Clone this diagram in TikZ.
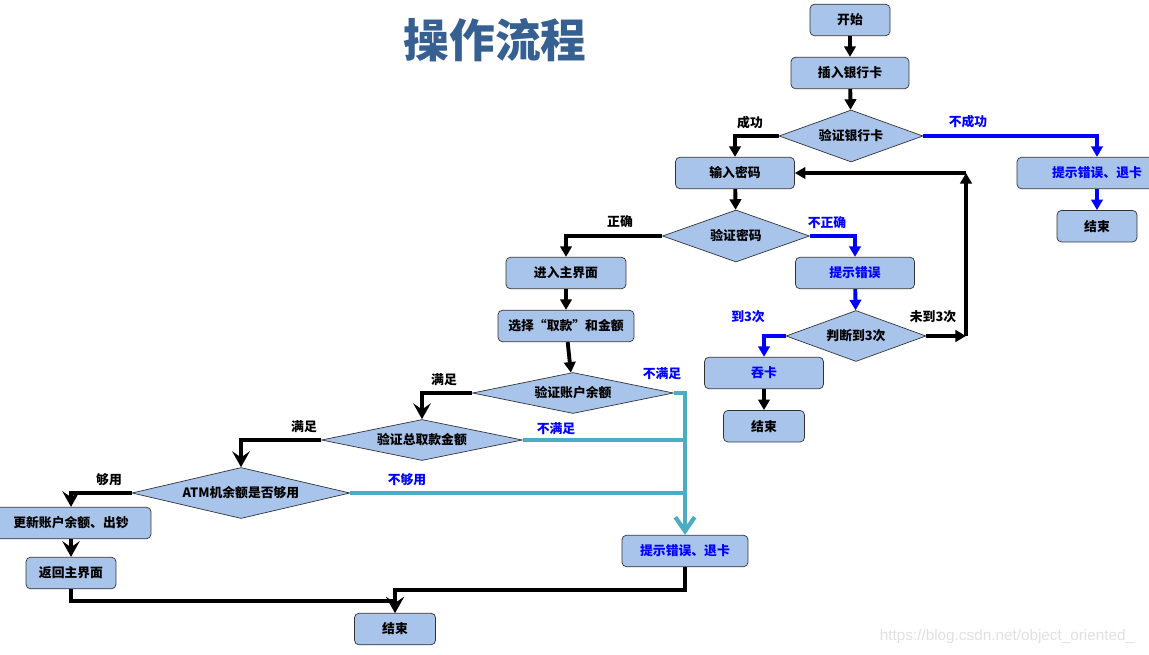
\documentclass[tikz,border=0pt]{standalone}
\usepackage{fontspec}
\setmainfont{Noto Sans CJK SC}
\newfontfamily\markfont{Liberation Sans}
\usetikzlibrary{positioning, shapes.geometric, arrows.meta}
\definecolor{boxblue}{RGB}{169,196,235}
\definecolor{titleblue}{RGB}{54,96,146}
\definecolor{noblue}{RGB}{0,0,255}
\definecolor{failteal}{RGB}{75,172,198}

\begin{document}
\begin{tikzpicture}[x=0.02cm, y=-0.02cm, node distance=0.42cm,
	every node/.style={font=\fontsize{7.3}{9}\selectfont\bfseries},
	stepbox/.style={rectangle, draw=black!80, fill=boxblue, rounded corners=2.5pt, minimum height=0.63cm, inner sep=1pt},
	decide/.style={diamond, draw=black!80, fill=boxblue, shape aspect=5, inner sep=0pt},
	lbl/.style={inner sep=0pt},
	go/.style={line width=2.2pt, -{Triangle[width=6.5pt,length=6pt]}},
	nogo/.style={go, noblue},
	yes/.style={line width=2.4pt, -{Stealth[width=10pt,length=9pt,inset=3.5pt]}},
	tealline/.style={line width=2.4pt, failteal},
	short/.style={tealline, -{Straight Barb[width=11pt,length=8pt]}}]
	\useasboundingbox (0,0) rectangle (1149,655);
	\node (title) at (495,40) [font=\fontsize{26}{30}\selectfont\bfseries, text=titleblue] {操作流程};
	\node (start) at (850,20) [stepbox, minimum width=1.6cm] {开始};
	\node (insert) at (850,73) [stepbox, minimum width=2.36cm] {插入银行卡};
	\node (chkcard) at (851,136) [decide, minimum width=2.88cm, minimum height=1.04cm] {验证银行卡};
	\node (cardfail) at (1097,173) [stepbox, minimum width=3.2cm, text=noblue] {提示错误、退卡};
	\node (end1) [stepbox, minimum width=1.6cm, below=of cardfail] {结束};
	\node (pwd) at (735,173) [stepbox, minimum width=2.38cm] {输入密码};
	\node (chkpwd) at (736,236) [decide, minimum width=2.94cm, minimum height=1.04cm] {验证密码};
	\node (home) at (566,273) [stepbox, minimum width=2.4cm] {进入主界面};
	\node (pwdfail) at (855,273) [stepbox, minimum width=2.38cm, text=noblue] {提示错误};
	\node (times) at (856,336) [decide, minimum width=2.8cm, minimum height=1.02cm] {判断到3次};
	\node (eat) at (764,373) [stepbox, minimum width=2.38cm, text=noblue] {吞卡};
	\node (end2) [stepbox, minimum width=1.62cm, below=0.42cm of eat] {结束};
	\node (select) at (566,326) [stepbox, minimum width=2.72cm] {选择“取款”和金额};
	\node (chkbal) at (573,393) [decide, minimum width=4.02cm, minimum height=0.82cm] {验证账户余额};
	\node (chktotal) at (422,440) [decide, minimum width=4.02cm, minimum height=0.82cm] {验证总取款金额};
	\node (chkatm) at (241,493) [decide, minimum width=4.36cm, minimum height=1.02cm] {ATM机余额是否够用};
	\node (update) at (71,523) [stepbox, minimum width=3.2cm] {更新账户余额、出钞};
	\node (back) at (71,573) [stepbox, minimum width=1.8cm] {返回主界面};
	\node (fail) at (685,551) [stepbox, minimum width=2.52cm, text=noblue] {提示错误、退卡};
	\node (end3) at (395,629) [stepbox, minimum width=1.62cm] {结束};
	\node (mark) at (1007,637) [font=\markfont\fontsize{8.7}{10}\selectfont, text=black!12] {https://blog.csdn.net/object\_oriented\_};
	% branch labels
	\node (lsucc) at (750,123) [lbl] {成功};
	\node (lfail) at (968,122) [lbl, text=noblue] {不成功};
	\node (lok) at (620,222) [lbl] {正确};
	\node (lwrong) at (827,223) [lbl, text=noblue] {不正确};
	\node (lthree) at (748,317) [lbl, text=noblue] {到3次};
	\node (lless) at (933,317) [lbl] {未到3次};
	\node (lbal) at (444,380) [lbl] {满足};
	\node (lnobal) at (662,374) [lbl, text=noblue] {不满足};
	\node (ltotal) at (304,427) [lbl] {满足};
	\node (lnototal) at (556,429) [lbl, text=noblue] {不满足};
	\node (latm) at (109,480) [lbl] {够用};
	\node (lnoatm) at (407,480) [lbl, text=noblue] {不够用};
	\coordinate (loopa) at (966,336);
	\coordinate (loopb) at (966,173);
	\draw[go] (start) -- (insert);
	\draw[go] (insert) -- (chkcard);
	\draw[go] (chkcard.west) -| (pwd.north);
	\draw[nogo] (chkcard.east) -| (cardfail.north);
	\draw[nogo] (cardfail) -- (end1);
	\draw[go] (pwd) -- (chkpwd);
	\draw[go] (chkpwd.west) -| (home.north);
	\draw[nogo] (chkpwd.east) -| (pwdfail.north);
	\draw[nogo] (pwdfail) -- (times);
	\draw[nogo] (times.west) -| (eat.north);
	\draw[go] (times.east) -- (loopa);
	\draw[go] (loopa) -- (loopb);
	\draw[go] (loopb) -- (pwd.east);
	\draw[go] (eat) -- (end2);
	\draw[go] (home) -- (select);
	\draw[go] (select) -- (chkbal);
	\draw[yes] (chkbal.west) -| (chktotal.north);
	\draw[yes] (chktotal.west) -| (chkatm.north);
	\draw[yes] (chkatm.west) -| (update.north);
	\draw[yes] (update) -- (back);
	\draw[yes] (back.south) -- ++(0,12) -| (end3.north);
	\draw[yes] (fail.south) -- ++(0,23) -| (end3.north);
	\draw[short] (chkbal.east) -| (fail.north);
	\draw[tealline] (chktotal.east) -- (chktotal.east -| fail.north);
	\draw[tealline] (chkatm.east) -- (chkatm.east -| fail.north);
\end{tikzpicture}
\end{document}
